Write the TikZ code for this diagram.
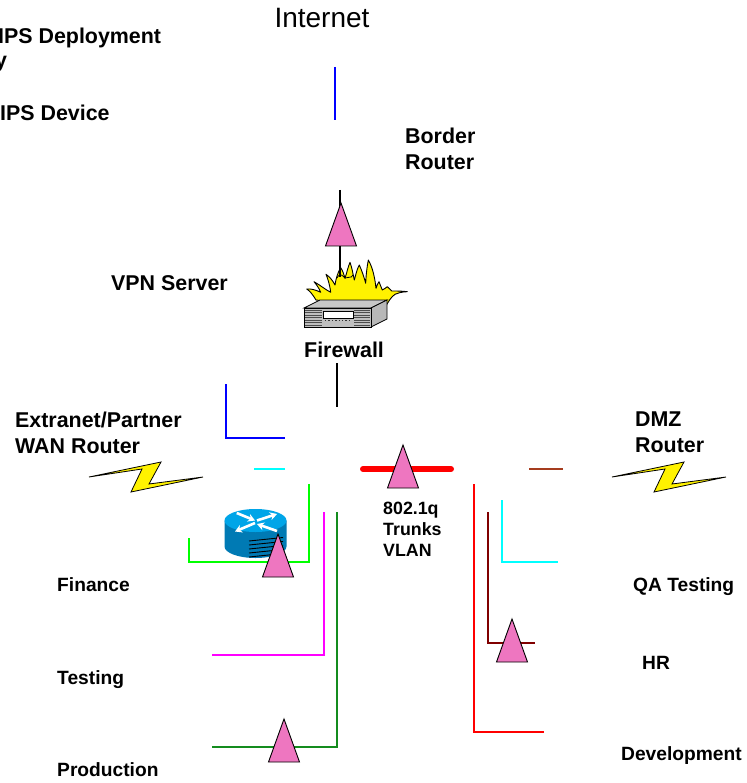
\documentclass[tikz,border=0pt]{standalone}
\usepackage{fontspec}
\setmainfont{Liberation Sans}
\usetikzlibrary{arrows.meta}
\definecolor{ipspink}{RGB}{238,118,192}
\definecolor{brownl}{RGB}{165,60,30}
\definecolor{darkred}{RGB}{128,0,0}
\definecolor{dgreen}{RGB}{20,140,30}
\definecolor{pcyan}{RGB}{0,255,255}
\definecolor{pmag}{RGB}{255,0,255}
\definecolor{pgreen}{RGB}{0,255,0}
\definecolor{pblue}{RGB}{0,0,255}
\definecolor{routertop}{RGB}{0,165,232}
\definecolor{routerside}{RGB}{0,122,180}
\tikzset{
 x=1pt,y=-1pt,
 lbl/.style={font=\bfseries\fontsize{21.4}{26}\selectfont,align=left,anchor=west,inner sep=0pt},
 small/.style={font=\bfseries\fontsize{19.2}{26}\selectfont,align=left,anchor=west,inner sep=0pt},
 tiny/.style={font=\bfseries\fontsize{17.8}{21}\selectfont,align=left,anchor=west,inner sep=0pt},
 wire/.style={line width=1.3pt},
 thinwire/.style={line width=1.05pt,black},
 ips/.style={fill=ipspink,draw=black,line width=0.9pt,line join=miter},
 bolt/.style={fill=yellow,draw=black,line width=0.8pt,line join=miter},
}
\newcommand{\ipsat}[2]{\draw[ips] (#1,#2) -- (#1+15.5,#2+43) -- (#1-15.5,#2+43) -- cycle;}
\begin{document}
\begin{tikzpicture}
\useasboundingbox (0,0) rectangle (746,783);
\clip (0,0) rectangle (746,783);
\fill[white] (0,0) rectangle (746,783);
% texts
\node[inner sep=0pt,anchor=center,font=\fontsize{28}{32}\selectfont] (inet) at (322,18) {Internet};
\node[lbl] (k1) at (-2,38) {IPS Deployment};
\node[lbl] (k2) at (-5,64) {y};
\node[lbl] (k3) at (0,113) {IPS Device};
\node[lbl] (border) at (405,149) {Border\\Router};
\node[lbl] (vpn) at (111,283) {VPN Server};
\node[lbl] (fw) at (304,350) {Firewall};
\node[lbl] (ext) at (15,433) {Extranet/Partner\\WAN Router};
\node[lbl] (dmz) at (635,432) {DMZ\\Router};
\node[tiny] (trunk) at (383,529.5) {802.1q\\Trunks\\VLAN};
\node[small] (fin) at (57,585) {Finance};
\node[small] (test) at (57,680) {Testing};
\node[small] (prod) at (57,770) {Production};
\node[small] (qa) at (633,587) {QA Testing};
\node[small] (hr) at (642,663) {HR};
\node[small] (dev) at (621,756) {Development};
% firewall flames
\draw[bolt,line width=0.9pt,line join=round] (316,300)
 .. controls (313,295) and (310,291) .. (306.7,289)
 .. controls (311,288.5) and (316,290) .. (320.7,292.3)
 .. controls (319,288) and (316,284) .. (314,281.7)
 .. controls (320,285) and (326,290) .. (330.7,292.3)
 .. controls (330,286) and (328,279) .. (326,274.3)
 .. controls (330,277) and (333,281) .. (335,285)
 .. controls (336,278) and (338,272) .. (340.7,267.7)
 .. controls (343,271) and (344,275) .. (345,278.3)
 .. controls (347,272) and (348,267) .. (350,262.3)
 .. controls (352,268) and (353,274) .. (354.3,280)
 .. controls (356,274) and (357,269) .. (359.3,265)
 .. controls (362,271) and (364,277) .. (365.7,283.3)
 .. controls (366,275) and (367,267) .. (368.3,260)
 .. controls (373,268) and (375,279) .. (376,288.3)
 .. controls (377,285) and (378,283) .. (379,281.7)
 .. controls (380,284) and (381,287) .. (382.3,290)
 .. controls (384,289) and (386,288) .. (387.3,286.7)
 .. controls (389,288) and (390,289.5) .. (391.7,291)
 .. controls (397,291) and (402,291) .. (407.3,291.7)
 .. controls (401,292) and (398,293) .. (395,294.3)
 .. controls (391,297) and (388,302) .. (385,308) -- cycle;
\draw[line width=0.8pt] (337,278) .. controls (340,272) and (343,276) .. (345,278) .. controls (348,276) and (351,279) .. (353,275);
% wires
\coordinate (w1a) at (335,67); \coordinate (w1b) at (335,120);
\draw[wire,pblue] (w1a) -- (w1b);
\coordinate (w2a) at (340,190); \coordinate (w2b) at (340,277);
\draw[thinwire] (w2a) -- (w2b);
\coordinate (w3a) at (337,363); \coordinate (w3b) at (337,407);
\draw[thinwire] (w3a) -- (w3b);
\draw[wire,pblue] (226,384) -- (226,438) -- (285,438);
\draw[wire,pcyan] (254,469) -- (285,469);
\draw[line width=6pt,red,line cap=round] (363,469) -- (451,469);
\draw[wire,brownl] (529,469) -- (563,469);
\draw[wire,red] (474,484) -- (474,732) -- (544,732);
\draw[wire,darkred] (488,512) -- (488,643) -- (535,643);
\draw[wire,pcyan] (502,500) -- (502,562) -- (558,562);
\draw[wire,pmag] (324,512) -- (324,655) -- (212,655);
\draw[wire,dgreen] (337,512) -- (337,747) -- (212,747);
% bolts
\draw[bolt] (89,477) -- (161,462) -- (149,484) -- (203,477) -- (131,492) -- (142,469) -- cycle;
\draw[bolt] (612,477) -- (684,462) -- (672,484) -- (726,477) -- (654,492) -- (665,469) -- cycle;
% router
\fill[routerside] (224.5,520.5) -- (224.5,546.5) arc[start angle=180,end angle=0,x radius=31,y radius=11.5] -- (286.5,520.5) -- cycle;
\fill[routertop] (255.5,520.5) ellipse[x radius=31,y radius=11.5];
\foreach \yy in {541,545,549,553,557}
  \draw[black,line width=0.9pt] (249,\yy) -- (283,\yy-3.5);
\foreach \a/\b/\c/\d in {236.7/513/255/520.5, 257/520.5/277/514, 255/523/235/531.5, 277/531/257/524}
  \draw[white,line width=2.6pt,-{Stealth[length=7pt,width=8pt]}] (\a,\b) -- (\c,\d);
\draw[wire,pgreen] (309,484) -- (309,562) -- (189,562) -- (189,538);
% firewall box
\draw[fill=black!22,line width=0.8pt] (304,308) -- (320,300) -- (387,300) -- (371,308) -- cycle;
\draw[fill=black!28,line width=0.8pt] (371,308) -- (387,300) -- (387,319) -- (371,327) -- cycle;
\draw[fill=black!25,line width=0.8pt] (304,308) rectangle (371,327);
\foreach \yy in {310,312.5,315,317.5,320,322.5,325} {
  \draw[black!70,line width=0.6pt] (305,\yy) -- (322,\yy);
  \draw[black!70,line width=0.6pt] (354,\yy) -- (370,\yy);
}
\draw[fill=white,draw=black,line width=0.5pt] (323,311) rectangle (353,318);
\draw[black!80,line width=1.4pt,dotted] (325,320.5) -- (352,320.5);
% IPS triangles
\ipsat{341}{203}
\ipsat{403}{445}
\ipsat{278}{534}
\ipsat{512}{619}
\ipsat{284}{719}
\end{tikzpicture}
\end{document}
